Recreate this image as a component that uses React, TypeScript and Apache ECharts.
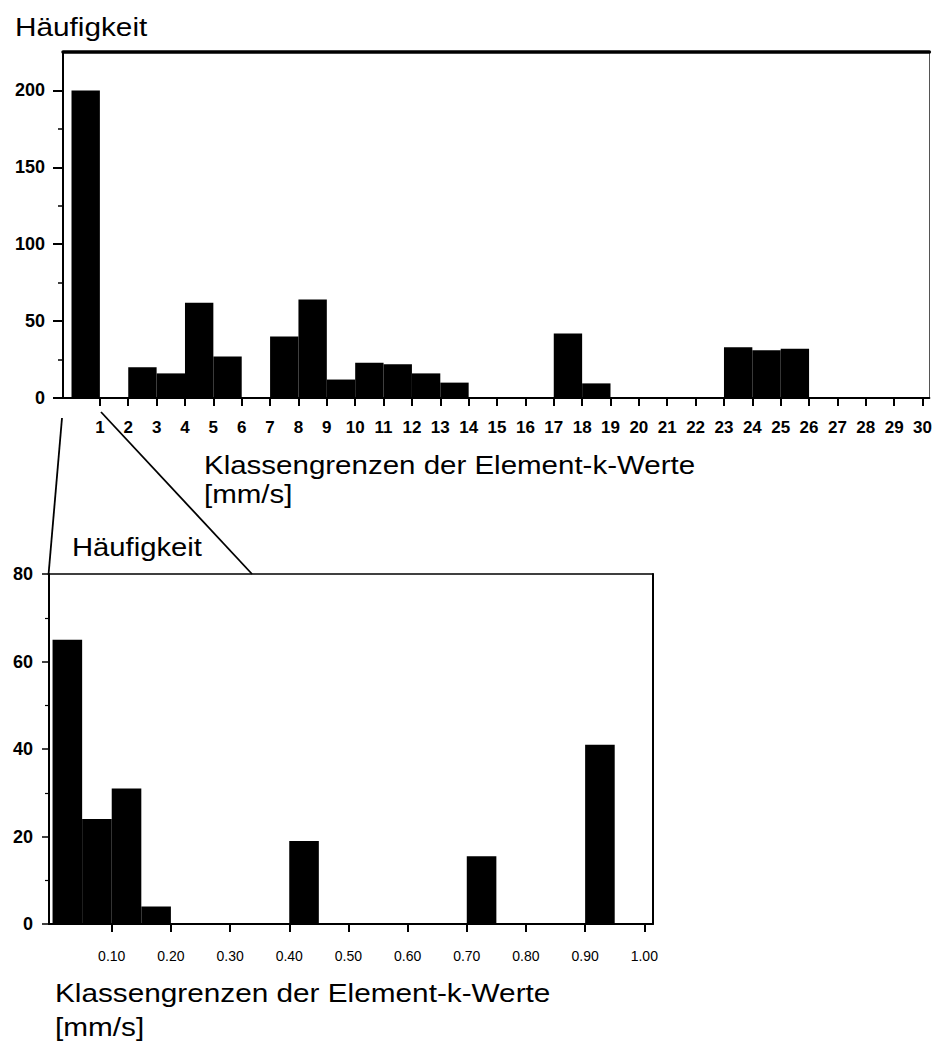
import React, { useEffect, useRef } from "react";
import * as echarts from "echarts";

// Top histogram: bins of width 1 mm/s
const topBinStarts = [0, 1, 2, 3, 4, 5, 6, 7, 8, 9, 10, 11, 12, 13, 14, 15, 16, 17, 18, 19, 20, 21, 22, 23, 24, 25, 26, 27, 28, 29];
const topBinEnds = [1, 2, 3, 4, 5, 6, 7, 8, 9, 10, 11, 12, 13, 14, 15, 16, 17, 18, 19, 20, 21, 22, 23, 24, 25, 26, 27, 28, 29, 30];
const topCounts = [200, 0, 20, 16, 62, 27, 0, 40, 64, 12, 23, 22, 16, 10, 0, 0, 0, 42, 9.5, 0, 0, 0, 0, 33, 31, 32, 0, 0, 0, 0];
const topXTicks = [1, 2, 3, 4, 5, 6, 7, 8, 9, 10, 11, 12, 13, 14, 15, 16, 17, 18, 19, 20, 21, 22, 23, 24, 25, 26, 27, 28, 29, 30];
const topYMajor = [0, 50, 100, 150, 200];
const topYMinor = [25, 75, 125, 175];

// Bottom histogram (zoom of 0..1): bins of width 0.05 mm/s
const botBinStarts = [0, 0.05, 0.1, 0.15, 0.2, 0.25, 0.3, 0.35, 0.4, 0.45, 0.5, 0.55, 0.6, 0.65, 0.7, 0.75, 0.8, 0.85, 0.9, 0.95];
const botBinEnds = [0.05, 0.1, 0.15, 0.2, 0.25, 0.3, 0.35, 0.4, 0.45, 0.5, 0.55, 0.6, 0.65, 0.7, 0.75, 0.8, 0.85, 0.9, 0.95, 1.0];
const botCounts = [65, 24, 31, 4, 0, 0, 0, 0, 19, 0, 0, 0, 0, 0, 15.5, 0, 0, 0, 41, 0];
const botXTicks = [0.1, 0.2, 0.3, 0.4, 0.5, 0.6, 0.7, 0.8, 0.9, 1.0];

const yTitle = "Häufigkeit";
const xTitle = "Klassengrenzen der Element-k-Werte";
const xUnit = "[mm/s]";

const FONT = "'Liberation Sans', Arial, Helvetica, sans-serif";

function histRender(params: any, api: any) {
  const s = api.value(0);
  const e = api.value(1);
  const v = api.value(2);
  const p0 = api.coord([s, v]);
  const p1 = api.coord([e, 0]);
  return {
    type: "rect",
    shape: { x: p0[0], y: p0[1], width: p1[0] - p0[0], height: p1[1] - p0[1] },
    style: { fill: "#000" },
  };
}

export default function App() {
  const ref = useRef<HTMLDivElement>(null);
  useEffect(() => {
    if (!ref.current) return;
    const chart = echarts.init(ref.current, null, { renderer: "svg" });
    const lineStyle = (w: number, c = "#000") => ({ show: true, onZero: false, lineStyle: { color: c, width: w } });
    const noTick = { show: false };
    const noLabel = { show: false };
    const noSplit = { show: false };

    const topData = topBinStarts.map((s, i) => [s, topBinEnds[i], topCounts[i]]);
    const botData = botBinStarts.map((s, i) => [s, botBinEnds[i], botCounts[i]]);

    const titleText = (text: string, x: number, y: number, size: number, sx: number) => ({
      type: "text",
      x,
      y,
      scaleX: sx,
      style: {
        text,
        fill: "#000",
        font: `${size}px ${FONT}`,
        align: "left",
        verticalAlign: "middle",
      },
    });

    chart.setOption({
      animation: false,
      backgroundColor: "#fff",
      grid: [
        { left: 63, top: 52, width: 871, height: 346 },
        { left: 49, top: 574, width: 604, height: 350 },
      ],
      xAxis: [
        {
          gridIndex: 0,
          type: "value",
          min: -0.3,
          max: 30.24,
          position: "bottom",
          axisLine: lineStyle(2),
          axisTick: { show: true, customValues: topXTicks, length: 8, lineStyle: { width: 2, color: "#000" } },
          axisLabel: {
            customValues: topXTicks,
            fontFamily: FONT,
            fontWeight: "bold",
            fontSize: 17,
            color: "#000",
            margin: 21,
          },
          splitLine: noSplit,
        },
        {
          gridIndex: 0,
          type: "value",
          min: -0.3,
          max: 30.24,
          position: "top",
          axisLine: lineStyle(3.5),
          axisTick: noTick,
          axisLabel: noLabel,
          splitLine: noSplit,
        },
        {
          gridIndex: 1,
          type: "value",
          min: -0.006,
          max: 1.0147,
          position: "bottom",
          axisLine: lineStyle(2),
          axisTick: { show: true, customValues: botXTicks, length: 8, lineStyle: { width: 2, color: "#000" } },
          axisLabel: {
            customValues: botXTicks,
            formatter: (v: number) => v.toFixed(2),
            fontFamily: FONT,
            fontSize: 14,
            color: "#000",
            margin: 25,
          },
          splitLine: noSplit,
        },
        {
          gridIndex: 1,
          type: "value",
          min: -0.006,
          max: 1.0147,
          position: "top",
          axisLine: lineStyle(1.5),
          axisTick: noTick,
          axisLabel: noLabel,
          splitLine: noSplit,
        },
      ],
      yAxis: [
        {
          gridIndex: 0,
          type: "value",
          min: 0,
          max: 225,
          position: "left",
          axisLine: lineStyle(2),
          axisTick: { show: true, customValues: topYMajor, length: 10, lineStyle: { width: 2, color: "#000" } },
          axisLabel: {
            customValues: topYMajor,
            fontFamily: FONT,
            fontWeight: "bold",
            fontSize: 18,
            color: "#000",
            margin: 18,
          },
          splitLine: noSplit,
        },
        {
          gridIndex: 0,
          type: "value",
          min: 0,
          max: 225,
          position: "left",
          axisLine: { show: false, onZero: false },
          axisTick: { show: true, customValues: topYMinor, length: 5, lineStyle: { width: 1.5, color: "#000" } },
          axisLabel: noLabel,
          splitLine: noSplit,
        },
        {
          gridIndex: 0,
          type: "value",
          min: 0,
          max: 225,
          position: "right",
          axisLine: lineStyle(1, "#555"),
          axisTick: noTick,
          axisLabel: noLabel,
          splitLine: noSplit,
        },
        {
          gridIndex: 1,
          type: "value",
          min: 0,
          max: 80,
          interval: 20,
          position: "left",
          axisLine: lineStyle(2),
          axisTick: { show: true, length: 7, lineStyle: { width: 1.5, color: "#000" } },
          minorTick: { show: true, splitNumber: 2, length: 4, lineStyle: { width: 1.2, color: "#000" } },
          axisLabel: {
            fontFamily: FONT,
            fontWeight: "bold",
            fontSize: 18,
            color: "#000",
            margin: 16,
          },
          splitLine: noSplit,
          minorSplitLine: { show: false },
        },
        {
          gridIndex: 1,
          type: "value",
          min: 0,
          max: 80,
          position: "right",
          axisLine: lineStyle(2),
          axisTick: noTick,
          axisLabel: noLabel,
          splitLine: noSplit,
        },
      ],
      series: [
        {
          type: "custom",
          name: "top",
          xAxisIndex: 0,
          yAxisIndex: 0,
          renderItem: histRender,
          encode: { x: [0, 1], y: 2 },
          data: topData,
        },
        {
          type: "custom",
          name: "bottom",
          xAxisIndex: 2,
          yAxisIndex: 3,
          renderItem: histRender,
          encode: { x: [0, 1], y: 2 },
          data: botData,
        },
      ],
      graphic: [
        titleText(yTitle, 15, 27, 25, 1.19),
        titleText(xTitle, 204, 465, 25, 1.18),
        titleText(xUnit, 204, 494, 25, 1.18),
        titleText(yTitle, 72, 547, 25, 1.17),
        titleText(xTitle, 55, 993, 25, 1.19),
        titleText(xUnit, 55, 1027, 25, 1.19),
        {
          type: "line",
          shape: { x1: 62, y1: 418, x2: 48.5, y2: 575 },
          style: { stroke: "#000", lineWidth: 1.8 },
        },
        {
          type: "line",
          shape: { x1: 101, y1: 412, x2: 252, y2: 574 },
          style: { stroke: "#000", lineWidth: 1.8 },
        },
      ],
    });
    return () => chart.dispose();
  }, []);
  return (
    <div
      ref={ref}
      style={{ position: "absolute", left: 0, top: 0, width: 935, height: 1044 }}
    />
  );
}
